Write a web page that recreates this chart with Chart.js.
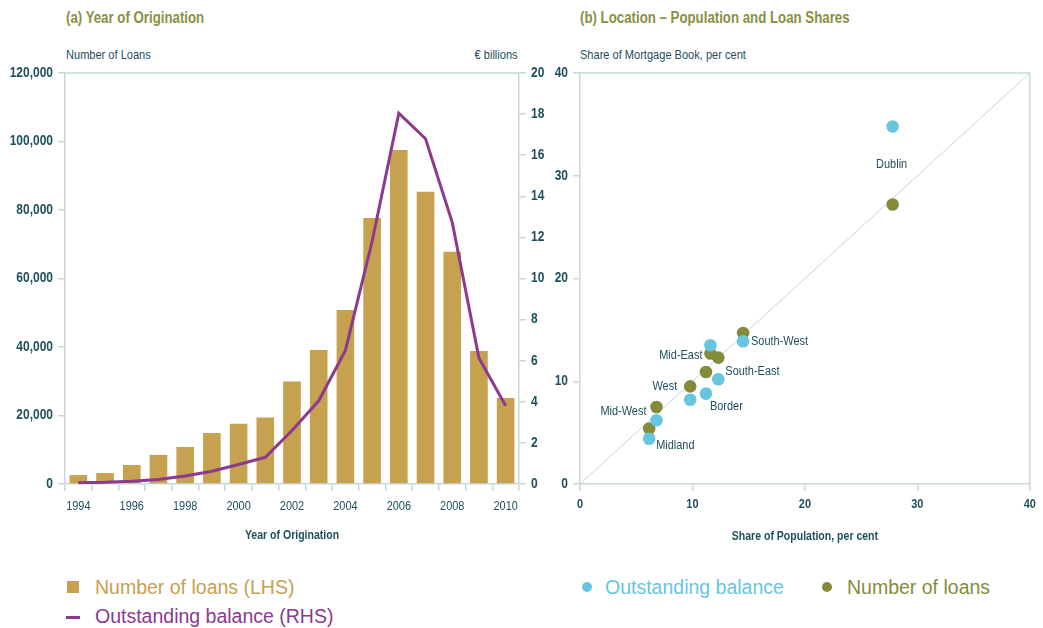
<!DOCTYPE html>
<html>
<head>
<meta charset="utf-8">
<script src="https://cdn.jsdelivr.net/npm/chart.js@4.4.1/dist/chart.umd.min.js"></script>
<style>
  html, body { margin: 0; padding: 0; background: #ffffff; }
  body { width: 1043px; height: 628px; position: relative; overflow: hidden;
         font-family: "Liberation Sans", Arial, sans-serif; }
  .abs { position: absolute; white-space: nowrap; line-height: 1; }
  /* narrow lettering for headings and axis captions */
  .cond { transform: scaleX(0.85); transform-origin: left center; }
  .cond.r { transform-origin: right center; }
  .title { font-weight: bold; font-size: 15.6px; color: #8a8f43; }
  .axt { font-size: 13px; color: #1e4f5c; }
  .leg { font-size: 19.5px; }
  #left { position: absolute; left: 0; top: 0; }
  #right { position: absolute; left: 548px; top: 0; }
</style>
</head>
<body>
<div class="abs cond title" style="left:66px; top:10px;">(a) Year of Origination</div>
<div class="abs cond axt" style="left:66px; top:48px;">Number of Loans</div>
<div class="abs cond r axt" style="right:525px; top:48px;">€ billions</div>

<div class="abs cond title" style="left:580px; top:10px;">(b) Location – Population and Loan Shares</div>
<div class="abs cond axt" style="left:580px; top:48px;">Share of Mortgage Book, per cent</div>

<canvas id="left" width="548" height="560"></canvas>
<canvas id="right" width="495" height="560"></canvas>

<!-- legends -->
<div class="abs" style="left:67px; top:581px; width:12px; height:12px; background:#c6a150;"></div>
<div class="abs leg" style="left:95px; top:577.5px; color:#c6a150;">Number of loans (LHS)</div>
<div class="abs" style="left:66px; top:615.5px; width:14px; height:3px; background:#8b3a8e;"></div>
<div class="abs leg" style="left:95px; top:607px; color:#8b3a8e;">Outstanding balance (RHS)</div>

<div class="abs" style="left:581.5px; top:582px; width:10px; height:10px; border-radius:50%; background:#67c5df;"></div>
<div class="abs leg" style="left:605px; top:577.5px; color:#67c5df;">Outstanding balance</div>
<div class="abs" style="left:822px; top:582px; width:10px; height:10px; border-radius:50%; background:#868b3c;"></div>
<div class="abs leg" style="left:847px; top:577.5px; color:#868b3c;">Number of loans</div>

<script>
// ---- (a) Year of origination ----
const years = ['1994', '1995', '1996', '1997', '1998', '1999', '2000', '2001', '2002',
               '2003', '2004', '2005', '2006', '2007', '2008', '2009', '2010'];
const loanCounts = [2600, 3200, 5550, 8500, 10800, 14900, 17600, 19400, 29900,
                    39100, 50800, 77700, 97500, 85300, 67800, 38800, 25100];
const balanceBn = [0.06, 0.08, 0.13, 0.22, 0.39, 0.62, 0.95, 1.3, 2.6,
                   4.05, 6.5, 11.8, 18.04, 16.8, 12.73, 6.13, 3.81];
const labelledYears = ['1994', '1996', '1998', '2000', '2002', '2004', '2006', '2008', '2010'];

// ---- (b) Location shares, per cent ----
const regions = ['Dublin', 'South-West', 'Mid-East', 'South-East', 'West', 'Border', 'Mid-West', 'Midland'];
const populationShare = [27.8, 14.5, 11.6, 12.3, 9.8, 11.2, 6.8, 6.15];
const balanceShare = [34.8, 13.9, 13.5, 10.2, 8.2, 8.8, 6.2, 4.4];
const loanShare = [27.2, 14.7, 12.7, 12.3, 9.5, 10.9, 7.5, 5.4];
const parityLine = [0, 40];

// ---- styling ----
const TEXT = '#1e4f5c';
const AXIS = '#c9d7db';
const GOLD = '#c6a150';
const PURPLE = '#8b3a8e';
const BLUE = '#67c5df';
const OLIVE = '#868b3c';
const FAMILY = '"Liberation Sans", Arial, sans-serif';
const TEXT_SQUEEZE = 0.85;   // horizontal squeeze for a narrow typeface look

Chart.defaults.font.family = FAMILY;
Chart.defaults.color = TEXT;

// Draw all canvas text slightly condensed around its anchor point.
const condensedText = {
  id: 'condensedText',
  beforeInit(chart) {
    const ctx = chart.ctx;
    const fill = ctx.fillText.bind(ctx);
    ctx.fillText = function (text, x, y, maxWidth) {
      this.save();
      this.translate(x, y);
      this.scale(TEXT_SQUEEZE, 1);
      if (maxWidth === undefined || maxWidth === null) { fill(text, 0, 0); }
      else { fill(text, 0, 0, maxWidth / TEXT_SQUEEZE); }
      this.restore();
    };
  }
};

// Light frame lines on the sides of the plot area not covered by an axis.
const framePlugin = {
  id: 'frame',
  beforeDatasetsDraw(chart, args, opts) {
    const { ctx, chartArea: a } = chart;
    ctx.save();
    ctx.strokeStyle = AXIS;
    ctx.lineWidth = 1.5;
    ctx.beginPath();
    ctx.moveTo(a.left, a.top);
    ctx.lineTo(a.right, a.top);
    if (opts.right) { ctx.lineTo(a.right, a.bottom); }
    ctx.stroke();
    ctx.restore();
  }
};

function axisGrid() {
  return { display: true, drawOnChartArea: false, drawTicks: true, tickLength: 7,
           color: AXIS, lineWidth: 1.5 };
}
const axisBorder = { display: true, color: AXIS, width: 1.5 };

new Chart(document.getElementById('left'), {
  type: 'bar',
  data: {
    labels: years,
    datasets: [
      { type: 'line', label: 'Outstanding balance (RHS)', data: balanceBn, yAxisID: 'yR',
        borderColor: PURPLE, borderWidth: 3, pointRadius: 0, tension: 0, order: 1 },
      { type: 'bar', label: 'Number of loans (LHS)', data: loanCounts, yAxisID: 'yL',
        backgroundColor: GOLD, borderWidth: 0, barPercentage: 0.66, categoryPercentage: 1.0, order: 2 }
    ]
  },
  options: {
    responsive: false, animation: false, devicePixelRatio: 1,
    layout: { padding: { top: 73, left: 0, right: 0, bottom: 0 } },
    plugins: { legend: { display: false }, tooltip: { enabled: false }, frame: { right: false } },
    scales: {
      x: {
        grid: Object.assign(axisGrid(), { offset: true }),
        border: axisBorder,
        ticks: { color: TEXT, font: { size: 12.9 }, padding: 8, autoSkip: false, maxRotation: 0,
                 callback(v, i) { const y = years[i]; return labelledYears.includes(y) ? y : ''; } },
        title: { display: true, text: 'Year of Origination', color: TEXT,
                 font: { size: 12.4, weight: 'bold' }, padding: { top: 0, bottom: 17 } },
        afterFit(s) { s.height = 76; }
      },
      yL: {
        position: 'left', min: 0, max: 120000,
        grid: axisGrid(), border: axisBorder,
        ticks: { stepSize: 20000, color: TEXT, font: { size: 14.1, weight: 'bold' }, padding: 5,
                 callback: v => v.toLocaleString('en-US') },
        afterFit(s) { s.width = 65; }
      },
      yR: {
        position: 'right', min: 0, max: 20,
        grid: axisGrid(), border: axisBorder,
        ticks: { stepSize: 2, color: TEXT, font: { size: 14.1, weight: 'bold' }, padding: 5 },
        afterFit(s) { s.width = 29; }
      }
    }
  },
  plugins: [condensedText, framePlugin]
});

// Region names, placed next to one of each region's two points.
const labelPlacement = [
  { anchor: 0, dx: -1, dy: 38.5, align: 'center' },  // Dublin
  { anchor: 0, dx: 8, dy: 0.5, align: 'left' },      // South-West
  { anchor: 1, dx: -8, dy: 1.5, align: 'right' },    // Mid-East
  { anchor: 0, dx: 7, dy: -7.5, align: 'left' },     // South-East
  { anchor: 1, dx: -13, dy: 0, align: 'right' },     // West
  { anchor: 0, dx: 4, dy: 12.5, align: 'left' },     // Border
  { anchor: 1, dx: -10, dy: 4.5, align: 'right' },   // Mid-West
  { anchor: 0, dx: 7, dy: 6.5, align: 'left' }       // Midland
];
const regionLabelPlugin = {
  id: 'regionLabels',
  afterDatasetsDraw(chart) {
    const { ctx } = chart;
    ctx.save();
    ctx.font = '12.9px ' + FAMILY;
    ctx.fillStyle = TEXT;
    ctx.textBaseline = 'middle';
    regions.forEach((name, i) => {
      const p = labelPlacement[i];
      const el = chart.getDatasetMeta(p.anchor).data[i];
      ctx.textAlign = p.align;
      ctx.fillText(name, el.x + p.dx, el.y + p.dy);
    });
    ctx.restore();
  }
};

new Chart(document.getElementById('right'), {
  type: 'scatter',
  data: {
    datasets: [
      { label: 'Outstanding balance', data: regions.map((r, i) => ({ x: populationShare[i], y: balanceShare[i] })),
        backgroundColor: BLUE, borderWidth: 0, pointRadius: 6.3, order: 1 },
      { label: 'Number of loans', data: regions.map((r, i) => ({ x: populationShare[i], y: loanShare[i] })),
        backgroundColor: OLIVE, borderWidth: 0, pointRadius: 6.3, order: 2 },
      { type: 'line', label: 'parity', data: parityLine.map(v => ({ x: v, y: v })),
        borderColor: '#c5d6d9', borderWidth: 1, pointRadius: 0, order: 3 }
    ]
  },
  options: {
    responsive: false, animation: false, devicePixelRatio: 1,
    layout: { padding: { top: 73, left: 0, right: 10, bottom: 0 } },
    plugins: { legend: { display: false }, tooltip: { enabled: false }, frame: { right: true } },
    scales: {
      x: {
        type: 'linear', min: 0, max: 40,
        grid: axisGrid(), border: axisBorder,
        ticks: { stepSize: 10, color: TEXT, font: { size: 12.9, weight: 'bold' }, padding: 6 },
        title: { display: true, text: 'Share of Population, per cent', color: TEXT,
                 font: { size: 12.4, weight: 'bold' }, padding: { top: 0, bottom: 16 } },
        afterFit(s) { s.height = 76; }
      },
      y: {
        type: 'linear', min: 0, max: 40,
        grid: axisGrid(), border: axisBorder,
        ticks: { stepSize: 10, color: TEXT, font: { size: 14.1, weight: 'bold' }, padding: 5 },
        afterFit(s) { s.width = 32; }
      }
    }
  },
  plugins: [condensedText, framePlugin, regionLabelPlugin]
});
</script>
</body>
</html>
